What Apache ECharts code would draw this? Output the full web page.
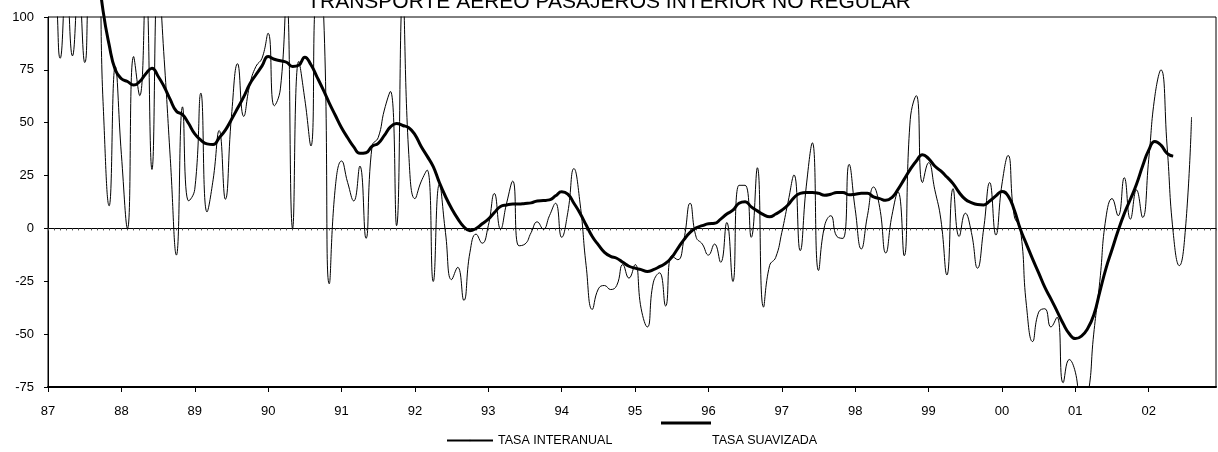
<!DOCTYPE html>
<html>
<head>
<meta charset="utf-8">
<script src="https://cdn.jsdelivr.net/npm/echarts@6/dist/echarts.min.js"></script>
<style>
  html, body { margin: 0; padding: 0; background: #fff; }
  #chart { width: 1218px; height: 452px; }
</style>
</head>
<body>
<div id="chart"></div>
<script>
// Two-digit year labels for the monthly axis (Jan 1987 .. Dec 2002)
const years = ['87','88','89','90','91','92','93','94','95','96','97','98','99','00','01','02'];

// Year-on-year rate, monthly from Jan 1987
const tasaInteranual = [
  125, 120, 80.5, 118, 81.6, 115, 78.5, 130, 135, 60, 10.7, 76.6,
  35, 0, 81.3, 62.8, 115, 27.9, 120, 80, 33, -12.6, 57.5, 13,
  18.5, 64, 7.8, 23, 46.3, 13.8, 53, 77.9, 53, 68, 76.6, 80.5,
  92.3, 58, 66, 110, 0, 79, 61, 39, 110, 106, -26.2, 20,
  31.9, 21.7, 13, 29.5, -4.7, 39, 43, 56, 64.8, 1.3, 110, 35,
  14.1, 22, 27.6, -25.1, 20.9, -2, -24.2, -18.4, -34, -11.3, -2.7, -7,
  1.3, 16.5, -0.3, 12, 22.4, -8.2, -7.4, -2, 3.1, -0.3, 6, 11.9,
  -4.2, 7.5, 28.3, 12, -17.6, -38.3, -28.6, -27, -28.9, -27, -17.1, -23.5,
  -17.1, -38, -46.6, -25.4, -21, -36.7, -12.9, -14.8, -5, 11.9, -4.2, -7.4,
  -12.6, -7.4, -16, 2.8, -25.1, 20.4, 20.4, -4.2, 28.7, -37.2, -17.6, -13.7,
  -1.9, 12.2, 25.3, -10.5, 20, 40.5, -19.9, 1.3, 6, -3.8, -4.7, 30.3,
  9, -9.7, 6, 19.6, 10, -11.6, 6, 17.3, -12.9, 51.5, 62.8, 21.7,
  31.1, 18.5, 4.4, -22, 18.8, -3.8, 7.2, -1.9, -18.8, -0.3, 21.7, -3.1,
  21, 34.5, 6, -0.3, -36.4, -53.5, -39.6, -38, -46.6, -42, -73, -62,
  -68, -85, -80, -50, -25, 5, 14.1, 6, 24, 4.4, 18.2, 5.2,
  32.7, 62.5, 75, 39, -1.9, -17.6, -0.3, 52.7
];

// Smoothed trend, same months (starts Aug 1987)
const tasaSuavizada = [
  null, null, null, null, null, null, null, 150, 127, 103, 86.8, 75,
  70.8, 69.5, 67.8, 69.5, 73.2, 75.8, 72, 67, 60.9, 55.4, 53.8, 49.6,
  44.7, 41.8, 40, 39.7, 42.9, 46.5, 51.5, 56.8, 62.2, 68.3, 72.7, 76.9,
  81.3, 80, 79.3, 78.6, 76.6, 77.2, 81, 77.4, 71.6, 65.6, 59.3, 53.4,
  47.6, 42.9, 38.6, 35.5, 35.8, 38.9, 40.2, 44, 48, 49.6, 48.7, 47.6,
  44.4, 38.9, 34.2, 29.2, 21.7, 15.1, 9.4, 4.6, 0.8, -1.1, 0, 2.2,
  4.4, 7.5, 10.4, 11.1, 11.5, 11.5, 11.8, 12.1, 13, 13.2, 13.5, 15.4,
  17.3, 16.2, 11.9, 7.2, 1.6, -3.8, -7.8, -11.3, -13.2, -14.1, -16, -17.9,
  -18.8, -19.5, -20.4, -19.5, -18.1, -16.5, -13.7, -9.4, -5.3, -1.9, 0.3, 1.3,
  2.2, 2.4, 4.4, 6.8, 8.6, 11.9, 12.6, 10.2, 8.3, 6.5, 5.5, 6.8,
  8.6, 11.1, 14.6, 16.6, 17, 17, 16.6, 15.7, 16.2, 17, 17, 15.9,
  16.2, 16.6, 16.6, 14.9, 14.1, 13.3, 14.6, 18.5, 23.2, 27.9, 31.9, 34.9,
  33, 29.5, 27.2, 24.3, 21.2, 17, 13.8, 12.2, 11.3, 11.1, 13, 15.4,
  17.5, 15.4, 8.8, -0.3, -7.4, -14.4, -21, -27.8, -33.3, -39.1, -45, -49.8,
  -52.1, -50.9, -47.4, -41.1, -30, -19, -10, -1, 7, 13.8, 20.9, 29.5,
  37, 41.1, 39.4, 35.5, 34.2
];

const yTicks = { min: -75, max: 100, step: 25 };

const months = [];
years.forEach(y => { for (let m = 1; m <= 12; m++) months.push(y + '-' + (m < 10 ? '0' + m : m)); });

const FONT = 'Liberation Sans, Arial, sans-serif';
const chart = echarts.init(document.getElementById('chart'), null, { renderer: 'canvas' });

chart.setOption({
  animation: false,
  backgroundColor: '#ffffff',
  title: {
    text: 'TRANSPORTE AEREO PASAJEROS INTERIOR NO REGULAR',
    left: 'center',
    top: -8,
    padding: 0,
    textStyle: { fontFamily: FONT, fontSize: 21, fontWeight: 'normal', color: '#000' }
  },
  grid: {
    left: 48, right: 2, top: 17, bottom: 65,
    show: true, borderColor: '#000', borderWidth: 1, backgroundColor: 'transparent'
  },
  legend: [
    {
      data: ['TASA INTERANUAL'],
      left: 441, top: 429,
      itemWidth: 46, itemHeight: 2,
      textStyle: { fontFamily: FONT, fontSize: 12.5, color: '#000' },
      selectedMode: false
    },
    {
      data: [{ name: 'TASA SUAVIZADA', icon: 'none' }],
      left: 677, top: 429,
      itemWidth: 25, itemHeight: 2,
      textStyle: { fontFamily: FONT, fontSize: 12.5, color: '#000' },
      selectedMode: false
    }
  ],
  graphic: [
    {
      type: 'line',
      shape: { x1: 661, y1: 423, x2: 711, y2: 423 },
      style: { stroke: '#000', lineWidth: 3 }
    }
  ],
  xAxis: [
    {
      type: 'category',
      data: months,
      boundaryGap: false,
      position: 'bottom',
      axisLine: { onZero: false, lineStyle: { color: '#000', width: 2 } },
      axisTick: { show: true, length: 5, interval: (i) => i % 12 === 0, lineStyle: { color: '#000' } },
      axisLabel: {
        interval: (i) => i % 12 === 0,
        formatter: (v) => v.split('-')[0],
        margin: 18,
        fontFamily: FONT, fontSize: 13, color: '#000'
      },
      splitLine: { show: false }
    },
    {
      type: 'category',
      data: months,
      boundaryGap: false,
      position: 'bottom',
      axisLine: { onZero: true, lineStyle: { color: '#000', width: 1 } },
      axisTick: { show: true, length: 2, interval: 0, inside: false, lineStyle: { color: '#555' } },
      axisLabel: { show: false },
      splitLine: { show: false }
    }
  ],
  yAxis: {
    type: 'value',
    min: yTicks.min, max: yTicks.max, interval: yTicks.step,
    axisLine: { show: true, lineStyle: { color: '#000', width: 1 } },
    axisTick: { show: true, length: 4, lineStyle: { color: '#000' } },
    axisLabel: { margin: 14, fontFamily: FONT, fontSize: 13, color: '#000' },
    splitLine: { show: false }
  },
  series: [
    {
      name: 'TASA INTERANUAL',
      type: 'line',
      data: tasaInteranual,
      smooth: 0.5,
      symbol: 'none',
      clip: true,
      lineStyle: { color: '#000', width: 1 },
      itemStyle: { color: '#000' },
      z: 3
    },
    {
      name: 'TASA SUAVIZADA',
      type: 'line',
      data: tasaSuavizada,
      smooth: 0.5,
      symbol: 'none',
      clip: false,
      lineStyle: { color: '#000', width: 3 },
      itemStyle: { color: '#000' },
      z: 4
    }
  ]
});
</script>
</body>
</html>
